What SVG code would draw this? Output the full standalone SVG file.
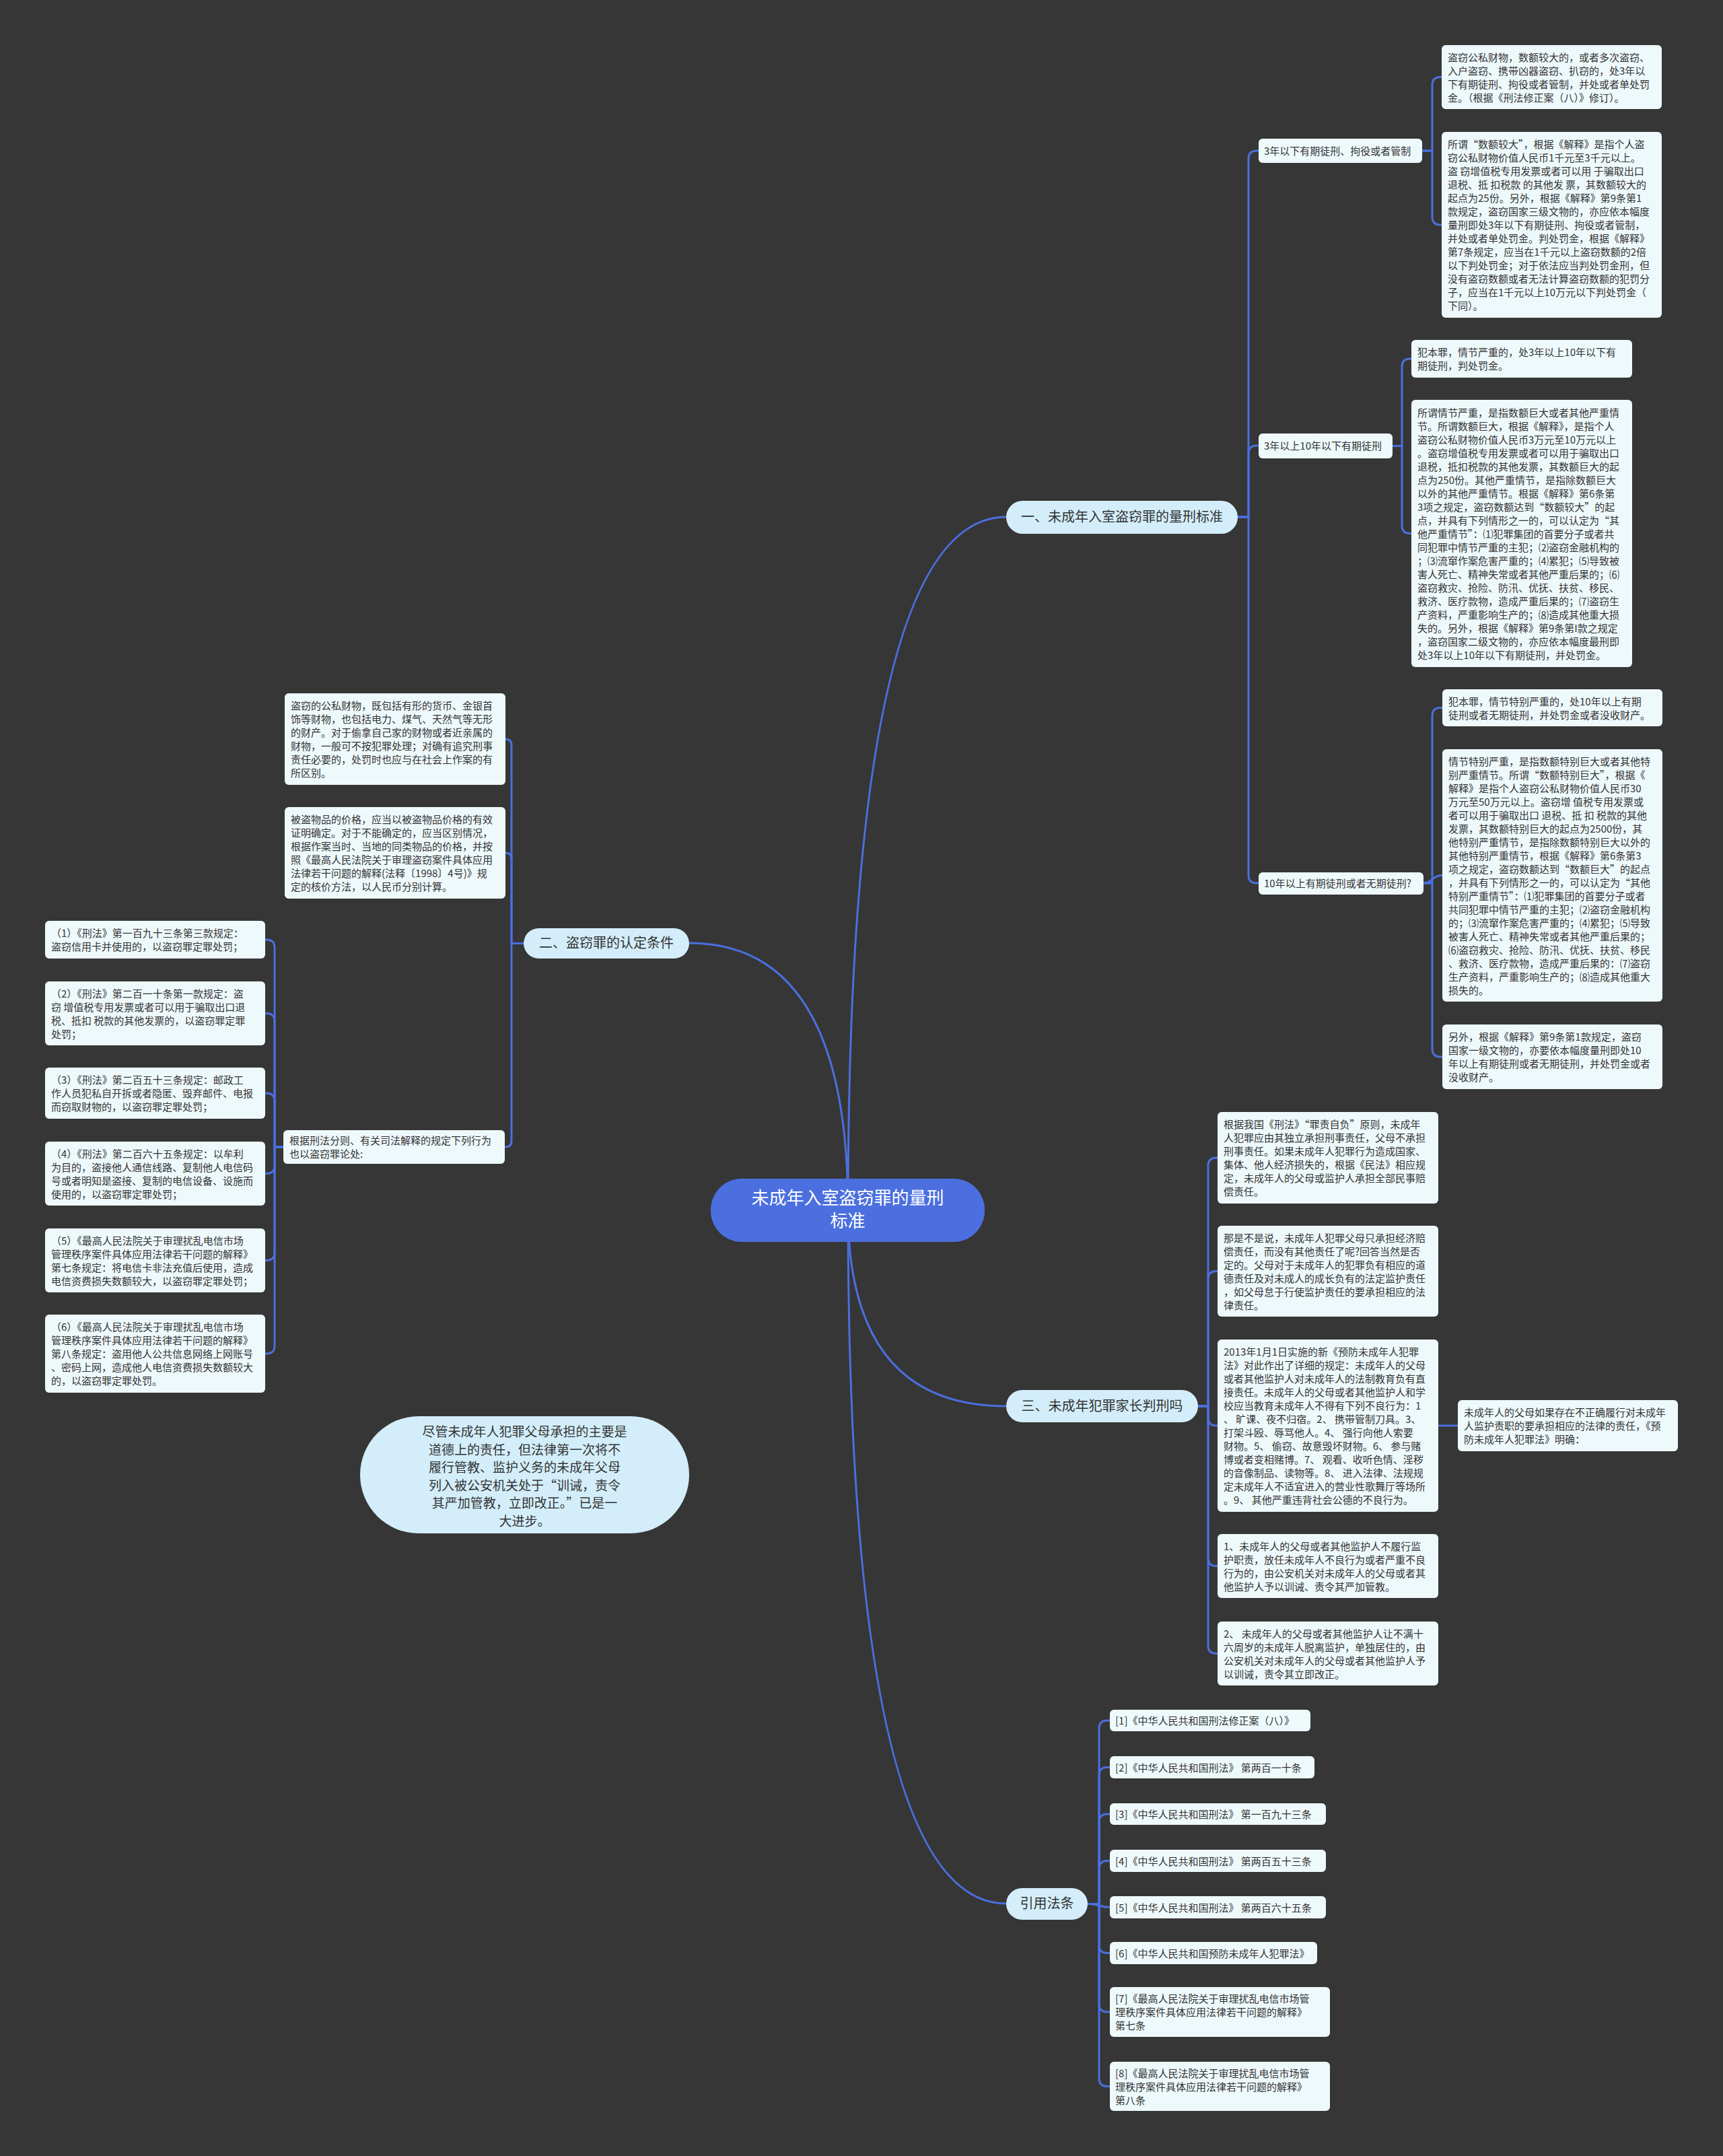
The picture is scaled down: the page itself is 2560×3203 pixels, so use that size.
<svg xmlns="http://www.w3.org/2000/svg" width="2560" height="3203" viewBox="0 0 2560 3203">
<style>
.bg{fill:#363636}
.c{fill:none;stroke:#4b6fdf;stroke-width:3;stroke-linecap:round}
.lf{fill:#eef9fc}
.t{font-family:"Noto Sans CJK SC","Noto Sans",sans-serif;font-size:15px;fill:#333}
.lb{font-family:"Noto Sans CJK SC","Noto Sans",sans-serif;font-size:15px;fill:#333}
.br{fill:#d3eefa}
.bt{font-family:"Noto Sans CJK SC","Noto Sans",sans-serif;font-size:20px;fill:#333;text-anchor:middle}
.ct{font-family:"Noto Sans CJK SC","Noto Sans",sans-serif;font-size:26px;fill:#fff;text-anchor:middle}
.ft{font-family:"Noto Sans CJK SC","Noto Sans",sans-serif;font-size:19px;fill:#333;text-anchor:middle}
</style>
<rect class="bg" x="0" y="0" width="2560" height="3203"/>
<g id="connectors">
<path class="c" d="M1260 1798 Q1260 768 1495 768"/>
<path class="c" d="M1260 1798 Q1260 1401 1024 1401"/>
<path class="c" d="M1260 1798 Q1260 2089 1495 2089"/>
<path class="c" d="M1260 1798 Q1260 2828 1495 2828"/>
<path class="c" d="M1839 768 H1855 V236 Q1855 224 1867 224 H1870"/>
<path class="c" d="M1839 768 H1855 V674 Q1855 662 1867 662 H1870"/>
<path class="c" d="M1839 768 H1855 V1300 Q1855 1312 1867 1312 H1870"/>
<path class="c" d="M2113 224 H2128 V126.5 Q2128 114.5 2140 114.5 H2142"/>
<path class="c" d="M2113 224 H2128 V322 Q2128 334 2140 334 H2142"/>
<path class="c" d="M2069 662.5 H2083 V545 Q2083 533 2095 533 H2097"/>
<path class="c" d="M2069 662.5 H2083 V780.5 Q2083 792.5 2095 792.5 H2097"/>
<path class="c" d="M2115 1312 H2128 V1063.5 Q2128 1051.5 2140 1051.5 H2143"/>
<path class="c" d="M2115 1312 C2128 1312 2128 1300.5 2143 1300.5"/>
<path class="c" d="M2115 1312 H2128 V1558 Q2128 1570 2140 1570 H2143"/>
<path class="c" d="M778 1401.5 H760 V1107 Q760 1098 751 1098"/>
<path class="c" d="M778 1401.5 H760 V1276 Q760 1267 751 1267"/>
<path class="c" d="M778 1401.5 H760 V1695 Q760 1704 751 1704"/>
<path class="c" d="M421 1704 H408 V1408 Q408 1396 396 1396 H394"/>
<path class="c" d="M421 1704 H408 V1517.5 Q408 1505.5 396 1505.5 H394"/>
<path class="c" d="M421 1704 H408 V1636 Q408 1624 396 1624 H394"/>
<path class="c" d="M421 1704 H408 V1731.5 Q408 1743.5 396 1743.5 H394"/>
<path class="c" d="M421 1704 H408 V1860.5 Q408 1872.5 396 1872.5 H394"/>
<path class="c" d="M421 1704 H408 V1999 Q408 2011 396 2011 H394"/>
<path class="c" d="M1780 2089 H1795 V1732 Q1795 1720 1807 1720 H1809"/>
<path class="c" d="M1780 2089 H1795 V1900.5 Q1795 1888.5 1807 1888.5 H1809"/>
<path class="c" d="M1780 2089 H1795 V2106 Q1795 2118 1807 2118 H1809"/>
<path class="c" d="M1780 2089 H1795 V2314.5 Q1795 2326.5 1807 2326.5 H1809"/>
<path class="c" d="M1780 2089 H1795 V2444.5 Q1795 2456.5 1807 2456.5 H1809"/>
<path class="c" d="M2137 2118 H2166"/>
<path class="c" d="M1616 2828.5 H1633 V2568 Q1633 2556 1645 2556 H1649"/>
<path class="c" d="M1616 2828.5 H1633 V2637.5 Q1633 2625.5 1645 2625.5 H1649"/>
<path class="c" d="M1616 2828.5 H1633 V2707 Q1633 2695 1645 2695 H1649"/>
<path class="c" d="M1616 2828.5 H1633 V2776.5 Q1633 2764.5 1645 2764.5 H1649"/>
<path class="c" d="M1616 2828.5 C1633 2828.5 1633 2833.5 1649 2833.5"/>
<path class="c" d="M1616 2828.5 H1633 V2889.5 Q1633 2901.5 1645 2901.5 H1649"/>
<path class="c" d="M1616 2828.5 H1633 V2977 Q1633 2989 1645 2989 H1649"/>
<path class="c" d="M1616 2828.5 H1633 V3087.5 Q1633 3099.5 1645 3099.5 H1649"/>
</g>
<g id="center">
<rect x="1056" y="1751" width="407" height="94" rx="46" fill="#4b6fdf"/>
<text class="ct" x="1259.5" y="1789">未成年入室盗窃罪的量刑</text>
<text class="ct" x="1259.5" y="1823">标准</text>
</g>
<g id="b1">
<rect class="br" x="1495" y="744" width="344" height="49" rx="24.5"/>
<text class="bt" x="1667" y="775">一、未成年入室盗窃罪的量刑标准</text>
</g>
<g id="b2">
<rect class="br" x="778" y="1379" width="246" height="45" rx="22.5"/>
<text class="bt" x="901" y="1408">二、盗窃罪的认定条件</text>
</g>
<g id="b3">
<rect class="br" x="1495" y="2065" width="285" height="48" rx="24"/>
<text class="bt" x="1637.5" y="2096">三、未成年犯罪家长判刑吗</text>
</g>
<g id="b4">
<rect class="br" x="1495" y="2805" width="121" height="47" rx="23.5"/>
<text class="bt" x="1555.5" y="2835">引用法条</text>
</g>
<g id="float">
<rect class="br" x="535" y="2104" width="489" height="174" rx="87"/>
<text class="ft" x="779.5" y="2134">尽管未成年人犯罪父母承担的主要是</text>
<text class="ft" x="779.5" y="2160.5">道德上的责任，但法律第一次将不</text>
<text class="ft" x="779.5" y="2187">履行管教、监护义务的未成年父母</text>
<text class="ft" x="779.5" y="2213.5">列入被公安机关处于“训诫，责令</text>
<text class="ft" x="779.5" y="2240">其严加管教，立即改正。”已是一</text>
<text class="ft" x="779.5" y="2266.5">大进步。</text>
</g>
<g id="l1">
<rect class="lf" x="1870" y="206" width="243" height="36" rx="6"/>
<text class="lb" x="1878" y="229.5">3年以下有期徒刑、拘役或者管制</text>
</g>
<g id="l2">
<rect class="lf" x="1870" y="644" width="199" height="37" rx="6"/>
<text class="lb" x="1878" y="668">3年以上10年以下有期徒刑</text>
</g>
<g id="l3">
<rect class="lf" x="1870" y="1296" width="245" height="33" rx="6"/>
<text class="lb" x="1878" y="1317.5">10年以上有期徒刑或者无期徒刑?</text>
</g>
<g id="nA">
<rect class="lf" x="2142" y="67" width="327" height="95" rx="6"/>
<text class="t" x="2151" y="91">盗窃公私财物，数额较大的，或者多次盗窃、</text>
<text class="t" x="2151" y="111">入户盗窃、携带凶器盗窃、扒窃的，处3年以</text>
<text class="t" x="2151" y="131">下有期徒刑、拘役或者管制，并处或者单处罚</text>
<text class="t" x="2151" y="151">金。（根据《刑法修正案（八）》修订）。</text>
</g>
<g id="nB">
<rect class="lf" x="2142" y="196" width="327" height="276" rx="6"/>
<text class="t" x="2151" y="220">所谓“数额较大”，根据《解释》是指个人盗</text>
<text class="t" x="2151" y="240">窃公私财物价值人民币1千元至3千元以上。</text>
<text class="t" x="2151" y="260">盗 窃增值税专用发票或者可以用 于骗取出口</text>
<text class="t" x="2151" y="280">退税、抵 扣税款 的其他发 票，其数额较大的</text>
<text class="t" x="2151" y="300">起点为25份。另外，根据《解释》第9条第1</text>
<text class="t" x="2151" y="320">款规定，盗窃国家三级文物的，亦应依本幅度</text>
<text class="t" x="2151" y="340">量刑即处3年以下有期徒刑、拘役或者管制，</text>
<text class="t" x="2151" y="360">并处或者单处罚金。判处罚金，根据《解释》</text>
<text class="t" x="2151" y="380">第7条规定，应当在1千元以上盗窃数额的2倍</text>
<text class="t" x="2151" y="400">以下判处罚金；对于依法应当判处罚金刑，但</text>
<text class="t" x="2151" y="420">没有盗窃数额或者无法计算盗窃数额的犯罚分</text>
<text class="t" x="2151" y="440">子，应当在1千元以上10万元以下判处罚金（</text>
<text class="t" x="2151" y="460">下同）。</text>
</g>
<g id="nC">
<rect class="lf" x="2097" y="505" width="328" height="56" rx="6"/>
<text class="t" x="2106" y="529">犯本罪，情节严重的，处3年以上10年以下有</text>
<text class="t" x="2106" y="549">期徒刑，判处罚金。</text>
</g>
<g id="nD">
<rect class="lf" x="2097" y="594" width="328" height="397" rx="6"/>
<text class="t" x="2106" y="619">所谓情节严重，是指数额巨大或者其他严重情</text>
<text class="t" x="2106" y="639">节。所谓数额巨大，根据《解释》，是指个人</text>
<text class="t" x="2106" y="659">盗窃公私财物价值人民币3万元至10万元以上</text>
<text class="t" x="2106" y="679">。盗窃增值税专用发票或者可以用于骗取出口</text>
<text class="t" x="2106" y="699">退税，抵扣税款的其他发票，其数额巨大的起</text>
<text class="t" x="2106" y="719">点为250份。其他严重情节，是指除数额巨大</text>
<text class="t" x="2106" y="739">以外的其他严重情节。根据《解释》第6条第</text>
<text class="t" x="2106" y="759">3项之规定，盗窃数额达到“数额较大”的起</text>
<text class="t" x="2106" y="779">点，并具有下列情形之一的，可以认定为“其</text>
<text class="t" x="2106" y="799">他严重情节”：⑴犯罪集团的首要分子或者共</text>
<text class="t" x="2106" y="819">同犯罪中情节严重的主犯；⑵盗窃金融机构的</text>
<text class="t" x="2106" y="839">；⑶流窜作案危害严重的；⑷累犯；⑸导致被</text>
<text class="t" x="2106" y="859">害人死亡、精神失常或者其他严重后果的；⑹</text>
<text class="t" x="2106" y="879">盗窃救灾、抢险、防汛、优抚、扶贫、移民、</text>
<text class="t" x="2106" y="899">救济、医疗款物，造成严重后果的；⑺盗窃生</text>
<text class="t" x="2106" y="919">产资料，严重影响生产的；⑻造成其他重大损</text>
<text class="t" x="2106" y="939">失的。另外，根据《解释》第9条第I款之规定</text>
<text class="t" x="2106" y="959">，盗窃国家二级文物的，亦应依本幅度最刑即</text>
<text class="t" x="2106" y="979">处3年以上10年以下有期徒刑，并处罚金。</text>
</g>
<g id="nE">
<rect class="lf" x="2143" y="1024" width="327" height="55" rx="6"/>
<text class="t" x="2152" y="1048">犯本罪，情节特别严重的，处10年以上有期</text>
<text class="t" x="2152" y="1068">徒刑或者无期徒刑，并处罚金或者没收财产。</text>
</g>
<g id="nF">
<rect class="lf" x="2143" y="1113" width="327" height="375" rx="6"/>
<text class="t" x="2152" y="1137">情节特别严重，是指数额特别巨大或者其他特</text>
<text class="t" x="2152" y="1157">别严重情节。所谓“数额特别巨大”，根据《</text>
<text class="t" x="2152" y="1177">解释》是指个人盗窃公私财物价值人民币30</text>
<text class="t" x="2152" y="1197">万元至50万元以上。盗窃增 值税专用发票或</text>
<text class="t" x="2152" y="1217">者可以用于骗取出口 退税、抵 扣 税款的其他</text>
<text class="t" x="2152" y="1237">发票，其数额特别巨大的起点为2500份，其</text>
<text class="t" x="2152" y="1257">他特别严重情节，是指除数额特别巨大以外的</text>
<text class="t" x="2152" y="1277">其他特别严重情节，根据《解释》第6条第3</text>
<text class="t" x="2152" y="1297">项之规定，盗窃数额达到“数额巨大”的起点</text>
<text class="t" x="2152" y="1317">，并具有下列情形之一的，可以认定为“其他</text>
<text class="t" x="2152" y="1337">特别严重情节”：⑴犯罪集团的首要分子或者</text>
<text class="t" x="2152" y="1357">共同犯罪中情节严重的主犯；⑵盗窃金融机构</text>
<text class="t" x="2152" y="1377">的；⑶流窜作案危害严重的；⑷累犯；⑸导致</text>
<text class="t" x="2152" y="1397">被害人死亡、精神失常或者其他严重后果的；</text>
<text class="t" x="2152" y="1417">⑹盗窃救灾、抢险、防汛、优抚、扶贫、移民</text>
<text class="t" x="2152" y="1437">、救济、医疗款物，造成严重后果的：⑺盗窃</text>
<text class="t" x="2152" y="1457">生产资料，严重影响生产的；⑻造成其他重大</text>
<text class="t" x="2152" y="1477">损失的。</text>
</g>
<g id="nG">
<rect class="lf" x="2143" y="1522" width="327" height="96" rx="6"/>
<text class="t" x="2152" y="1546">另外，根据《解释》第9条第1款规定，盗窃</text>
<text class="t" x="2152" y="1566">国家一级文物的，亦要依本幅度量刑即处10</text>
<text class="t" x="2152" y="1586">年以上有期徒刑或者无期徒刑，并处罚金或者</text>
<text class="t" x="2152" y="1606">没收财产。</text>
</g>
<g id="nH">
<rect class="lf" x="423" y="1030" width="328" height="136" rx="6"/>
<text class="t" x="432" y="1054">盗窃的公私财物，既包括有形的货币、金银首</text>
<text class="t" x="432" y="1074">饰等财物，也包括电力、煤气、天然气等无形</text>
<text class="t" x="432" y="1094">的财产。对于偷拿自己家的财物或者近亲属的</text>
<text class="t" x="432" y="1114">财物，一般可不按犯罪处理；对确有追究刑事</text>
<text class="t" x="432" y="1134">责任必要的，处罚时也应与在社会上作案的有</text>
<text class="t" x="432" y="1154">所区别。</text>
</g>
<g id="nI">
<rect class="lf" x="423" y="1199" width="328" height="136" rx="6"/>
<text class="t" x="432" y="1223">被盗物品的价格，应当以被盗物品价格的有效</text>
<text class="t" x="432" y="1243">证明确定。对于不能确定的，应当区别情况，</text>
<text class="t" x="432" y="1263">根据作案当时、当地的同类物品的价格，并按</text>
<text class="t" x="432" y="1283">照《最高人民法院关于审理盗窃案件具体应用</text>
<text class="t" x="432" y="1303">法律若干问题的解释(法释〔1998〕4号)》规</text>
<text class="t" x="432" y="1323">定的核价方法，以人民币分别计算。</text>
</g>
<g id="nJ">
<rect class="lf" x="421" y="1679" width="329" height="50" rx="6"/>
<text class="t" x="430" y="1700">根据刑法分则、有关司法解释的规定下列行为</text>
<text class="t" x="430" y="1720">也以盗窃罪论处:</text>
</g>
<g id="j1">
<rect class="lf" x="67" y="1368" width="327" height="56" rx="6"/>
<text class="t" x="76" y="1392">（1）《刑法》第一百九十三条第三款规定：</text>
<text class="t" x="76" y="1412">盗窃信用卡并使用的，以盗窃罪定罪处罚；</text>
</g>
<g id="j2">
<rect class="lf" x="67" y="1458" width="327" height="95" rx="6"/>
<text class="t" x="76" y="1481.5">（2）《刑法》第二百一十条第一款规定：盗</text>
<text class="t" x="76" y="1501.5">窃 增值税专用发票或者可以用于骗取出口退</text>
<text class="t" x="76" y="1521.5">税、抵扣 税款的其他发票的，以盗窃罪定罪</text>
<text class="t" x="76" y="1541.5">处罚；</text>
</g>
<g id="j3">
<rect class="lf" x="67" y="1586" width="327" height="76" rx="6"/>
<text class="t" x="76" y="1610">（3）《刑法》第二百五十三条规定：邮政工</text>
<text class="t" x="76" y="1630">作人员犯私自开拆或者隐匿、毁弃邮件、电报</text>
<text class="t" x="76" y="1650">而窃取财物的，以盗窃罪定罪处罚；</text>
</g>
<g id="j4">
<rect class="lf" x="67" y="1696" width="327" height="95" rx="6"/>
<text class="t" x="76" y="1719.5">（4）《刑法》第二百六十五条规定：以牟利</text>
<text class="t" x="76" y="1739.5">为目的，盗接他人通信线路、复制他人电信码</text>
<text class="t" x="76" y="1759.5">号或者明知是盗接、复制的电信设备、设施而</text>
<text class="t" x="76" y="1779.5">使用的，以盗窃罪定罪处罚；</text>
</g>
<g id="j5">
<rect class="lf" x="67" y="1825" width="327" height="95" rx="6"/>
<text class="t" x="76" y="1848.5">（5）《最高人民法院关于审理扰乱电信市场</text>
<text class="t" x="76" y="1868.5">管理秩序案件具体应用法律若干问题的解释》</text>
<text class="t" x="76" y="1888.5">第七条规定：将电信卡非法充值后使用，造成</text>
<text class="t" x="76" y="1908.5">电信资费损失数额较大，以盗窃罪定罪处罚；</text>
</g>
<g id="j6">
<rect class="lf" x="67" y="1953" width="327" height="116" rx="6"/>
<text class="t" x="76" y="1977">（6）《最高人民法院关于审理扰乱电信市场</text>
<text class="t" x="76" y="1997">管理秩序案件具体应用法律若干问题的解释》</text>
<text class="t" x="76" y="2017">第八条规定：盗用他人公共信息网络上网账号</text>
<text class="t" x="76" y="2037">、密码上网，造成他人电信资费损失数额较大</text>
<text class="t" x="76" y="2057">的，以盗窃罪定罪处罚。</text>
</g>
<g id="nK">
<rect class="lf" x="1809" y="1652" width="328" height="136" rx="6"/>
<text class="t" x="1818" y="1676">根据我国《刑法》“罪责自负”原则，未成年</text>
<text class="t" x="1818" y="1696">人犯罪应由其独立承担刑事责任，父母不承担</text>
<text class="t" x="1818" y="1716">刑事责任。如果未成年人犯罪行为造成国家、</text>
<text class="t" x="1818" y="1736">集体、他人经济损失的，根据《民法》相应规</text>
<text class="t" x="1818" y="1756">定，未成年人的父母或监护人承担全部民事赔</text>
<text class="t" x="1818" y="1776">偿责任。</text>
</g>
<g id="nL">
<rect class="lf" x="1809" y="1821" width="328" height="135" rx="6"/>
<text class="t" x="1818" y="1844.5">那是不是说，未成年人犯罪父母只承担经济赔</text>
<text class="t" x="1818" y="1864.5">偿责任，而没有其他责任了呢?回答当然是否</text>
<text class="t" x="1818" y="1884.5">定的。父母对于未成年人的犯罪负有相应的道</text>
<text class="t" x="1818" y="1904.5">德责任及对未成人的成长负有的法定监护责任</text>
<text class="t" x="1818" y="1924.5">，如父母怠于行使监护责任的要承担相应的法</text>
<text class="t" x="1818" y="1944.5">律责任。</text>
</g>
<g id="nM">
<rect class="lf" x="1809" y="1990" width="328" height="256" rx="6"/>
<text class="t" x="1818" y="2014">2013年1月1日实施的新《预防未成年人犯罪</text>
<text class="t" x="1818" y="2034">法》对此作出了详细的规定：未成年人的父母</text>
<text class="t" x="1818" y="2054">或者其他监护人对未成年人的法制教育负有直</text>
<text class="t" x="1818" y="2074">接责任。未成年人的父母或者其他监护人和学</text>
<text class="t" x="1818" y="2094">校应当教育未成年人不得有下列不良行为：1</text>
<text class="t" x="1818" y="2114">、 旷课、夜不归宿。2、 携带管制刀具。3、</text>
<text class="t" x="1818" y="2134"> 打架斗殴、辱骂他人。4、 强行向他人索要</text>
<text class="t" x="1818" y="2154">财物。5、 偷窃、故意毁坏财物。6、 参与赌</text>
<text class="t" x="1818" y="2174">博或者变相赌博。7、 观看、收听色情、淫秽</text>
<text class="t" x="1818" y="2194">的音像制品、读物等。8、 进入法律、法规规</text>
<text class="t" x="1818" y="2214">定未成年人不适宜进入的营业性歌舞厅等场所</text>
<text class="t" x="1818" y="2234">。9、 其他严重违背社会公德的不良行为。</text>
</g>
<g id="nP">
<rect class="lf" x="2166" y="2080" width="327" height="76" rx="6"/>
<text class="t" x="2175" y="2104">未成年人的父母如果存在不正确履行对未成年</text>
<text class="t" x="2175" y="2124">人监护责职的要承担相应的法律的责任，《预</text>
<text class="t" x="2175" y="2144">防未成年人犯罪法》明确：</text>
</g>
<g id="nN">
<rect class="lf" x="1809" y="2279" width="328" height="95" rx="6"/>
<text class="t" x="1818" y="2302.5">1、未成年人的父母或者其他监护人不履行监</text>
<text class="t" x="1818" y="2322.5">护职责，放任未成年人不良行为或者严重不良</text>
<text class="t" x="1818" y="2342.5">行为的，由公安机关对未成年人的父母或者其</text>
<text class="t" x="1818" y="2362.5">他监护人予以训诫、责令其严加管教。</text>
</g>
<g id="nO">
<rect class="lf" x="1809" y="2409" width="328" height="95" rx="6"/>
<text class="t" x="1818" y="2432.5">2、 未成年人的父母或者其他监护人让不满十</text>
<text class="t" x="1818" y="2452.5">六周岁的未成年人脱离监护，单独居住的，由</text>
<text class="t" x="1818" y="2472.5">公安机关对未成年人的父母或者其他监护人予</text>
<text class="t" x="1818" y="2492.5">以训诫，责令其立即改正。</text>
</g>
<g id="r1">
<rect class="lf" x="1649" y="2540" width="298" height="32" rx="6"/>
<text class="t" x="1657" y="2562">[1]《中华人民共和国刑法修正案（八）》</text>
</g>
<g id="r2">
<rect class="lf" x="1649" y="2609" width="304" height="33" rx="6"/>
<text class="t" x="1657" y="2631.5">[2]《中华人民共和国刑法》 第两百一十条</text>
</g>
<g id="r3">
<rect class="lf" x="1649" y="2679" width="321" height="32" rx="6"/>
<text class="t" x="1657" y="2701">[3]《中华人民共和国刑法》 第一百九十三条</text>
</g>
<g id="r4">
<rect class="lf" x="1649" y="2748" width="321" height="33" rx="6"/>
<text class="t" x="1657" y="2770.5">[4]《中华人民共和国刑法》 第两百五十三条</text>
</g>
<g id="r5">
<rect class="lf" x="1649" y="2817" width="321" height="33" rx="6"/>
<text class="t" x="1657" y="2839.5">[5]《中华人民共和国刑法》 第两百六十五条</text>
</g>
<g id="r6">
<rect class="lf" x="1649" y="2885" width="308" height="33" rx="6"/>
<text class="t" x="1657" y="2907.5">[6]《中华人民共和国预防未成年人犯罪法》</text>
</g>
<g id="r7">
<rect class="lf" x="1649" y="2952" width="327" height="74" rx="6"/>
<text class="t" x="1657" y="2975">[7]《最高人民法院关于审理扰乱电信市场管</text>
<text class="t" x="1657" y="2995">理秩序案件具体应用法律若干问题的解释》</text>
<text class="t" x="1657" y="3015">第七条</text>
</g>
<g id="r8">
<rect class="lf" x="1649" y="3063" width="327" height="73" rx="6"/>
<text class="t" x="1657" y="3085.5">[8]《最高人民法院关于审理扰乱电信市场管</text>
<text class="t" x="1657" y="3105.5">理秩序案件具体应用法律若干问题的解释》</text>
<text class="t" x="1657" y="3125.5">第八条</text>
</g>
</svg>
